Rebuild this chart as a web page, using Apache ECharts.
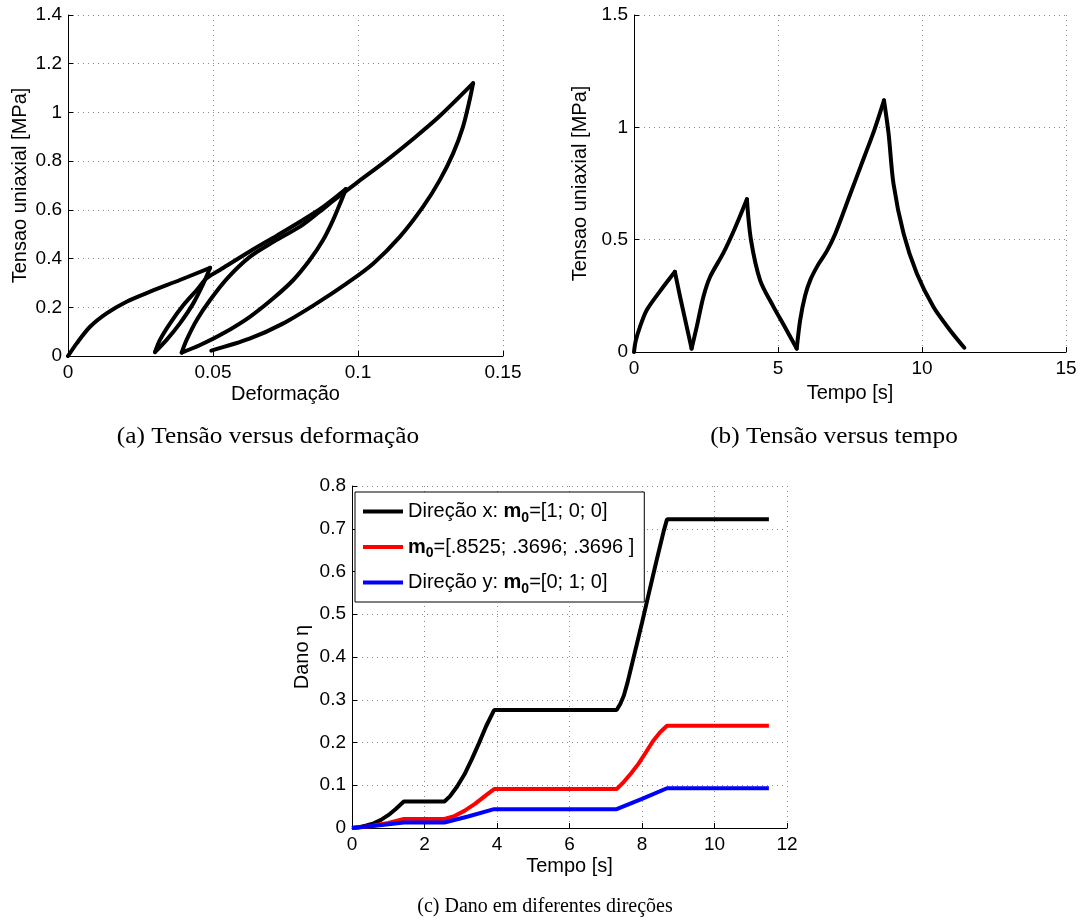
<!DOCTYPE html>
<html>
<head>
<meta charset="utf-8">
<script src="https://cdn.jsdelivr.net/npm/echarts@6/dist/echarts.min.js"></script>
<style>
html,body{margin:0;padding:0;background:#fff;}
#chart{width:1088px;height:920px;}
</style>
</head>
<body>
<div id="chart"></div>
<script>
// ---- (a) stress vs strain (in time order) ----
var strainA = [0,0.003,0.0076,0.0133,0.0202,0.0283,0.0386,0.049,
  0.0467,0.0432,0.0386,0.034,0.030,
  0.0317,0.0352,0.0398,0.0444,0.0478,0.0525,0.0628,0.072,0.08,0.088,0.0958,
  0.0943,0.0914,0.0879,0.0833,0.0776,0.0707,0.0626,0.0534,0.0454,0.0392,
  0.0409,0.0444,0.049,0.055,0.0628,0.071,0.08,0.0865,0.0926,0.1,0.1092,0.119,0.128,0.1397,
  0.1385,0.1362,0.1328,0.1282,0.1224,0.1144,0.1052,0.096,0.0856,0.0741,0.0626,0.0494];
var stressA = [0,0.052,0.12,0.175,0.223,0.264,0.312,0.362,
  0.298,0.216,0.134,0.066,0.016,
  0.066,0.134,0.209,0.271,0.319,0.354,0.43,0.494,0.551,0.612,0.685,
  0.640,0.558,0.475,0.393,0.311,0.236,0.160,0.092,0.044,0.014,
  0.066,0.148,0.23,0.32,0.408,0.47,0.531,0.59,0.648,0.715,0.797,0.891,0.983,1.12,
  1.051,0.941,0.832,0.722,0.612,0.489,0.379,0.297,0.215,0.133,0.071,0.022];
var xTicksA = [0, 0.05, 0.1, 0.15];
var yTicksA = [0, 0.2, 0.4, 0.6, 0.8, 1, 1.2, 1.4];

// ---- (b) stress vs time ----
var timeB = [0,0.06,0.21,0.44,0.9,1.42,1.6,1.83,2.0,2.18,2.41,2.64,3.1,3.5,3.92,
  4.06,4.38,4.84,5.2,5.65,5.77,5.94,6.12,6.4,6.7,7.0,7.5,8.0,8.35,8.68,
  8.84,9.01,9.36,9.82,10.4,10.98,11.47];
var stressB = [0,0.05,0.113,0.186,0.27,0.357,0.246,0.113,0.015,0.113,0.246,0.334,0.44,0.55,0.68,
  0.5,0.319,0.202,0.12,0.015,0.142,0.25,0.32,0.39,0.45,0.53,0.7,0.87,0.99,1.12,
  0.972,0.749,0.527,0.349,0.2,0.096,0.019];
var xTicksB = [0, 5, 10, 15];
var yTicksB = [0, 0.5, 1, 1.5];

// ---- (c) damage vs time ----
var timeCx = [0,0.2,0.4,0.6,0.8,1.0,1.2,1.43,2.55,2.7,2.9,3.1,3.3,3.5,3.7,3.92,7.3,7.4,7.5,7.6,7.8,8.0,8.2,8.4,8.6,8.69,11.5];
var damageX = [0,0.002,0.006,0.011,0.019,0.03,0.044,0.062,0.062,0.074,0.097,0.125,0.16,0.198,0.238,0.276,0.276,0.29,0.31,0.34,0.41,0.48,0.553,0.625,0.695,0.722,0.722];
var timeCm = [0,0.5,1.0,1.43,2.55,2.8,3.1,3.4,3.7,3.92,7.3,7.5,7.7,7.9,8.1,8.3,8.5,8.69,11.5];
var damageM = [0,0.004,0.012,0.021,0.021,0.027,0.04,0.057,0.077,0.091,0.091,0.108,0.128,0.15,0.176,0.203,0.224,0.239,0.239];
var timeCy = [0,0.7,1.43,2.55,3.2,3.92,7.3,8.0,8.69,11.5];
var damageY = [0,0.006,0.013,0.013,0.027,0.044,0.044,0.068,0.093,0.093];
var xTicksC = [0, 2, 4, 6, 8, 10, 12];
var yTicksC = [0, 0.1, 0.2, 0.3, 0.4, 0.5, 0.6, 0.7, 0.8];
var seriesNamesC = ['dirx', 'm0', 'diry'];
var legendLabelsC = [
  '{n|Direção x: }{b|m}{s|0}{n|=[1; 0; 0]}',
  '{b|m}{s|0}{n|=[.8525; .3696; .3696 ]}',
  '{n|Direção y: }{b|m}{s|0}{n|=[0; 1; 0]}'
];
var captions = ['(a) Tensão versus deformação', '(b) Tensão versus tempo', '(c) Dano em diferentes direções'];
var axisNames = {ax:'Deformação', ay:'Tensao uniaxial [MPa]', bx:'Tempo [s]', by:'Tensao uniaxial [MPa]', cx:'Tempo [s]', cy:'Dano η'};

function pairs(xs, ys){ return xs.map(function(x,i){ return [x, ys[i]]; }); }
// split a path into monotone branches at its local extrema (peaks / valleys)
function branches(xs, ys){
  var cuts = [0];
  for (var i=1;i<ys.length-1;i++){ if ((ys[i]-ys[i-1])*(ys[i+1]-ys[i]) < 0) cuts.push(i); }
  cuts.push(ys.length-1);
  var out = [];
  for (var k=0;k<cuts.length-1;k++){ out.push(pairs(xs.slice(cuts[k], cuts[k+1]+1), ys.slice(cuts[k], cuts[k+1]+1))); }
  return out;
}

var SANS = 'Liberation Sans, Arial, sans-serif';
var SERIF = 'Liberation Serif, Times New Roman, serif';

function mkAxis(ticks, gridIndex, name, isX, nameGap){
  var step = ticks[1]-ticks[0];
  return {
    type:'value', gridIndex:gridIndex, min:ticks[0], max:ticks[ticks.length-1], interval:step,
    name:name, nameLocation:'middle', nameGap:nameGap,
    nameTextStyle:{fontFamily:SANS, fontSize:20, color:'#000'},
    axisLine:{show:true, onZero:false, lineStyle:{color:'#000', width:1}},
    axisTick:{show:true, inside:true, length:5, lineStyle:{color:'#000', width:1}},
    axisLabel:{fontFamily:SANS, fontSize:19, color:'#000', margin: isX ? 7 : 6,
      formatter:function(v){
        for (var i=0;i<ticks.length;i++){ if (Math.abs(ticks[i]-v) < 1e-9) return String(ticks[i]); }
        return '';
      }},
    splitLine:{show:true, lineStyle:{color:'#8a8a8a', width:1, type:[1,4]}}
  };
}

var series = [];
branches(strainA, stressA).forEach(function(d){
  series.push({type:'line', xAxisIndex:0, yAxisIndex:0, data:d, symbol:'none', silent:true, smooth:0.3,
    lineStyle:{color:'#000', width:4, cap:'round', join:'round'}, itemStyle:{color:'#000'}});
});
branches(timeB, stressB).forEach(function(d){
  series.push({type:'line', xAxisIndex:1, yAxisIndex:1, data:d, symbol:'none', silent:true, smooth:0.3,
    lineStyle:{color:'#000', width:4, cap:'round', join:'round'}, itemStyle:{color:'#000'}});
});
series.push({name:seriesNamesC[0], type:'line', xAxisIndex:2, yAxisIndex:2, data:pairs(timeCx, damageX), symbol:'none', silent:true,
  lineStyle:{color:'#000', width:4}, itemStyle:{color:'#000'}});
series.push({name:seriesNamesC[1], type:'line', xAxisIndex:2, yAxisIndex:2, data:pairs(timeCm, damageM), symbol:'none', silent:true,
  lineStyle:{color:'#ff0000', width:4}, itemStyle:{color:'#ff0000'}});
series.push({name:seriesNamesC[2], type:'line', xAxisIndex:2, yAxisIndex:2, data:pairs(timeCy, damageY), symbol:'none', silent:true,
  lineStyle:{color:'#0000ff', width:4}, itemStyle:{color:'#0000ff'}});

var chart = echarts.init(document.getElementById('chart'), null, {renderer:'canvas'});
var option = {
  animation:false,
  backgroundColor:'#fff',
  grid:[
    {left:68, top:15, width:435, height:341, outerBoundsMode:'none'},
    {left:634, top:15, width:432, height:337, outerBoundsMode:'none'},
    {left:352, top:486, width:435, height:342, outerBoundsMode:'none'}
  ],
  xAxis:[
    mkAxis(xTicksA, 0, axisNames.ax, true, 28),
    mkAxis(xTicksB, 1, axisNames.bx, true, 31),
    mkAxis(xTicksC, 2, axisNames.cx, true, 28)
  ],
  yAxis:[
    mkAxis(yTicksA, 0, axisNames.ay, false, 38),
    mkAxis(yTicksB, 1, axisNames.by, false, 44),
    mkAxis(yTicksC, 2, axisNames.cy, false, 40)
  ],
  legend:{
    orient:'vertical', left:355, top:492, selectedMode:false, z:10,
    data:seriesNamesC,
    backgroundColor:'#fff', borderColor:'#000', borderWidth:1, borderRadius:0,
    padding:[6,10,6,8], itemGap:8.5, itemWidth:40, itemHeight:4, icon:'rect',
    formatter:function(name){ return legendLabelsC[seriesNamesC.indexOf(name)]; },
    textStyle:{fontFamily:SANS, fontSize:20, color:'#000',
      rich:{
        n:{fontFamily:SANS, fontSize:20, color:'#000', lineHeight:24},
        b:{fontFamily:SANS, fontSize:20, fontWeight:'bold', color:'#000', lineHeight:24},
        s:{fontFamily:SANS, fontSize:14, fontWeight:'bold', color:'#000', padding:[13,0,0,0], lineHeight:24}
      }}
  },
  series:series,
  graphic:[
    {type:'text', x:268, y:437, scaleX:1.1, style:{text:captions[0], font:'23px ' + SERIF, fill:'#000', textAlign:'center', textVerticalAlign:'middle'}},
    {type:'text', x:834, y:437, scaleX:1.1, style:{text:captions[1], font:'23px ' + SERIF, fill:'#000', textAlign:'center', textVerticalAlign:'middle'}},
    {type:'text', x:545, y:907, style:{text:captions[2], font:'20px ' + SERIF, fill:'#000', textAlign:'center', textVerticalAlign:'middle'}}
  ]
};
chart.setOption(option);
</script>
</body>
</html>
